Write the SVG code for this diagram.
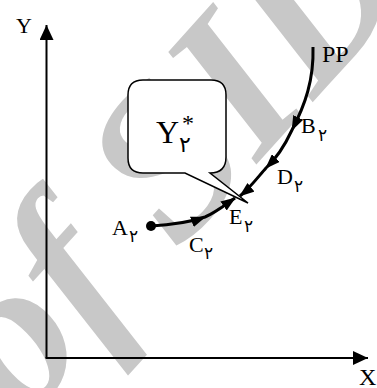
<svg xmlns="http://www.w3.org/2000/svg" width="377" height="388" viewBox="0 0 377 388">
<style>
.lbl{font-family:"Liberation Serif","Times New Roman",serif;font-size:22px;fill:#000}
.sub{font-family:"DejaVu Sans","Noto Sans",sans-serif;font-size:17px;fill:#000}
.crv{fill:none;stroke:#000;stroke-width:3;marker-mid:url(#arr);marker-end:url(#arr)}
.wm{font-family:"Liberation Serif","Times New Roman",serif;font-style:italic;font-weight:bold;font-size:215px;fill:#c8c8c8}
</style>
<defs>
<marker id="arr" viewBox="0 0 15 11" refX="14" refY="5.5" markerWidth="15" markerHeight="11" markerUnits="userSpaceOnUse" orient="auto">
<path d="M0,0 L15,5.5 L0,11 Z" fill="#000"/>
</marker>
<marker id="axarr" viewBox="0 0 15 14" refX="15" refY="7" markerWidth="15" markerHeight="14" markerUnits="userSpaceOnUse" orient="auto">
<path d="M0,0 L15,7 L0,14 Z" fill="#000"/>
</marker>
</defs>
<g id="watermark">
<text class="wm" transform="translate(22,425) rotate(-48)" x="0" y="0">of SID</text>
</g>
<g id="axes">
<path d="M46.5,358 V25" fill="none" stroke="#000" stroke-width="2" marker-end="url(#axarr)"/>
<path d="M45.5,358 H368" fill="none" stroke="#000" stroke-width="2" marker-end="url(#axarr)"/>
<text class="lbl" x="16" y="33">Y</text>
<text class="lbl" x="359" y="385" style="font-size:24px">X</text>
</g>
<g id="callout">
<path d="M143,80 H211 Q226,80 226,95 V157 Q226,173 210,173 L248,203 L185,173 H143 Q128,173 128,158 V95 Q128,80 143,80 Z" fill="#fff" stroke="#000" stroke-width="1.5" stroke-linejoin="miter"/>
<text class="lbl" x="156" y="143" style="font-size:32px">Y</text>
<text class="lbl" x="182" y="131" style="font-size:24px">*</text>
<text class="sub" x="179" y="152" style="font-size:22px">۲</text>
</g>
<g id="connectors">
<path class="crv" d="M313,47 C314,80 305,105 292,130 C285,145 278,157 266,168 C258,177 250,188 240,196"/>
<path class="crv" d="M151,226 C170,225 190,222 205,217 C215,213 225,205 235,198"/>
<circle cx="151" cy="226" r="5" fill="#000"/>
</g>
<g id="node-PP"><text class="lbl" x="322" y="62" style="font-size:24px">PP</text></g>
<g id="node-B2"><text class="lbl" x="301" y="133">B</text><text class="sub" x="318" y="141">۲</text></g>
<g id="node-D2"><text class="lbl" x="277" y="184">D</text><text class="sub" x="294" y="192">۲</text></g>
<g id="node-E2"><text class="lbl" x="229" y="224">E</text><text class="sub" x="244" y="232">۲</text></g>
<g id="node-A2"><text class="lbl" x="112" y="235">A</text><text class="sub" x="129" y="242">۲</text></g>
<g id="node-C2"><text class="lbl" x="189" y="252">C</text><text class="sub" x="204" y="259">۲</text></g>
</svg>
